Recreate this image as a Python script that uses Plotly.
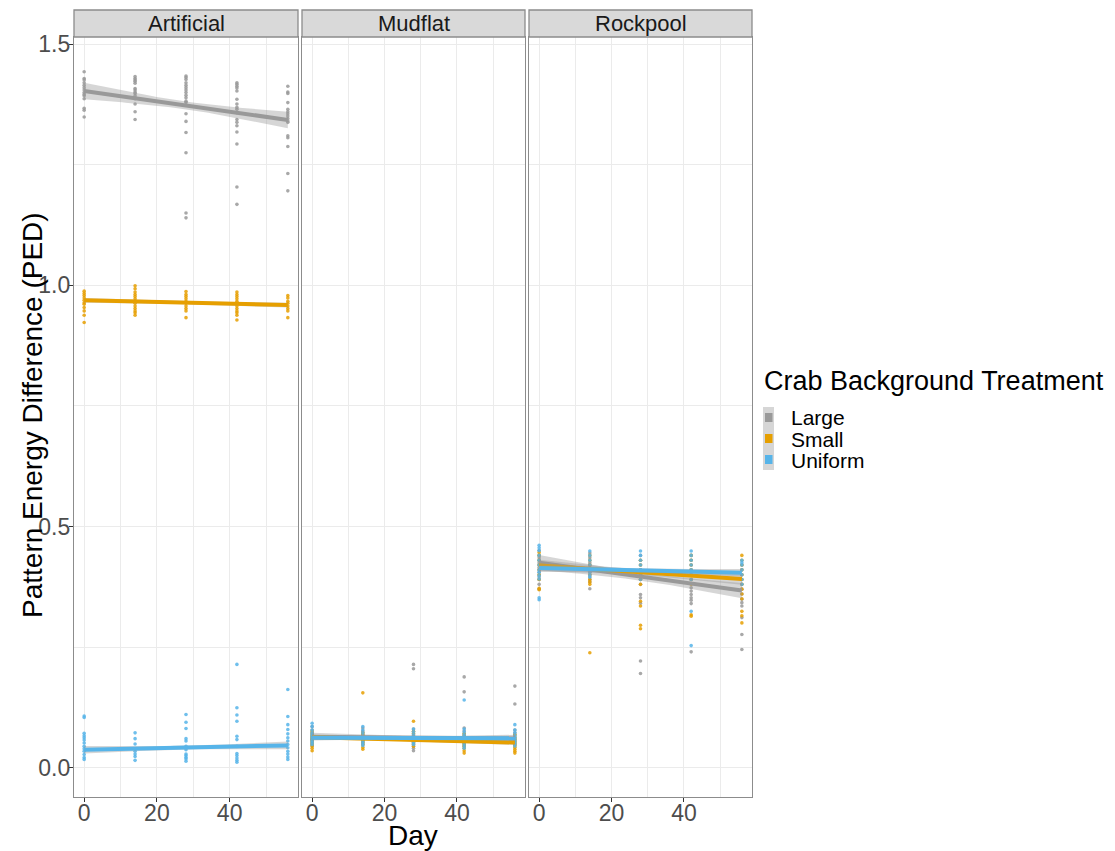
import numpy as np
import plotly.graph_objects as go

# ---------------- data ----------------
days = [0, 14, 28, 42, 56]
panels = ["Artificial", "Mudflat", "Rockpool"]
groups = ["Large", "Small", "Uniform"]
colors = {"Large": "#999999", "Small": "#E69F00", "Uniform": "#56B4E9"}

art_large = [
    [1.443, 1.429, 1.426, 1.420, 1.415, 1.410, 1.405, 1.400, 1.396, 1.393, 1.387, 1.367, 1.363, 1.349],
    [1.433, 1.429, 1.426, 1.423, 1.419, 1.408, 1.405, 1.401, 1.398, 1.393, 1.387, 1.376, 1.360, 1.344],
    [1.434, 1.431, 1.427, 1.420, 1.415, 1.410, 1.405, 1.400, 1.394, 1.389, 1.382, 1.379, 1.356, 1.340, 1.317, 1.275, 1.150, 1.140],
    [1.420, 1.417, 1.413, 1.409, 1.403, 1.386, 1.376, 1.369, 1.365, 1.358, 1.344, 1.338, 1.331, 1.318, 1.293, 1.204, 1.168],
    [1.413, 1.401, 1.398, 1.379, 1.365, 1.360, 1.356, 1.351, 1.346, 1.341, 1.338, 1.310, 1.306, 1.288, 1.232, 1.196],
]
art_small = [
    [0.988, 0.983, 0.979, 0.974, 0.969, 0.964, 0.961, 0.954, 0.947, 0.938, 0.923],
    [0.999, 0.993, 0.986, 0.981, 0.977, 0.972, 0.967, 0.963, 0.957, 0.952, 0.947, 0.943, 0.938],
    [0.987, 0.981, 0.977, 0.972, 0.967, 0.963, 0.957, 0.952, 0.947, 0.933],
    [0.986, 0.981, 0.977, 0.972, 0.967, 0.963, 0.957, 0.952, 0.947, 0.943, 0.938, 0.928],
    [0.979, 0.974, 0.967, 0.963, 0.957, 0.952, 0.947, 0.933],
]
art_uniform = [
    [0.107, 0.104, 0.071, 0.066, 0.062, 0.057, 0.051, 0.044, 0.039, 0.034, 0.027, 0.021, 0.017],
    [0.072, 0.060, 0.049, 0.039, 0.034, 0.028, 0.023, 0.015],
    [0.110, 0.094, 0.081, 0.060, 0.055, 0.044, 0.037, 0.028, 0.025, 0.021, 0.018, 0.013],
    [0.214, 0.124, 0.109, 0.096, 0.065, 0.058, 0.044, 0.029, 0.025, 0.020, 0.015, 0.011],
    [0.162, 0.106, 0.089, 0.079, 0.070, 0.062, 0.055, 0.048, 0.041, 0.034, 0.028, 0.022, 0.017],
]
mud_large = [
    [0.085, 0.078, 0.072, 0.068, 0.065, 0.062, 0.060, 0.058, 0.055, 0.052, 0.048, 0.045],
    [0.082, 0.076, 0.072, 0.068, 0.065, 0.062, 0.058, 0.055, 0.052, 0.048],
    [0.214, 0.205, 0.080, 0.075, 0.070, 0.066, 0.062, 0.058, 0.054, 0.050, 0.045, 0.040, 0.035],
    [0.188, 0.157, 0.082, 0.076, 0.070, 0.066, 0.062, 0.058, 0.054, 0.050, 0.045],
    [0.169, 0.132, 0.078, 0.072, 0.068, 0.064, 0.060, 0.056, 0.052, 0.048],
]
mud_small = [
    [0.075, 0.070, 0.066, 0.062, 0.058, 0.055, 0.050, 0.045, 0.040, 0.035],
    [0.155, 0.072, 0.068, 0.064, 0.060, 0.056, 0.052, 0.048, 0.042, 0.038],
    [0.096, 0.075, 0.070, 0.065, 0.060, 0.056, 0.052, 0.048, 0.044],
    [0.070, 0.065, 0.060, 0.056, 0.052, 0.048, 0.044, 0.040, 0.035, 0.030],
    [0.068, 0.062, 0.058, 0.054, 0.050, 0.046, 0.042, 0.038, 0.034, 0.030],
]
mud_uniform = [
    [0.092, 0.085, 0.078, 0.072, 0.068, 0.064, 0.060, 0.056, 0.052, 0.048],
    [0.085, 0.078, 0.072, 0.066, 0.062, 0.058, 0.054, 0.050, 0.046],
    [0.080, 0.074, 0.068, 0.064, 0.060, 0.056, 0.052, 0.048],
    [0.140, 0.080, 0.074, 0.068, 0.064, 0.060, 0.056, 0.050, 0.045, 0.040],
    [0.089, 0.078, 0.072, 0.066, 0.062, 0.058, 0.054, 0.050, 0.045],
]
rock_large = [
    [0.450, 0.440, 0.435, 0.430, 0.425, 0.420, 0.415, 0.410, 0.405, 0.400, 0.395, 0.390, 0.380, 0.370],
    [0.445, 0.435, 0.425, 0.420, 0.415, 0.410, 0.405, 0.400, 0.395, 0.390, 0.385, 0.371],
    [0.440, 0.430, 0.420, 0.410, 0.400, 0.390, 0.380, 0.359, 0.352, 0.341, 0.221, 0.195],
    [0.440, 0.430, 0.420, 0.410, 0.400, 0.390, 0.373, 0.366, 0.359, 0.352, 0.347, 0.340, 0.240],
    [0.420, 0.410, 0.400, 0.390, 0.380, 0.370, 0.360, 0.349, 0.342, 0.335, 0.311, 0.276, 0.245],
]
rock_small = [
    [0.446, 0.440, 0.430, 0.420, 0.410, 0.400, 0.390, 0.372, 0.369],
    [0.440, 0.430, 0.420, 0.410, 0.400, 0.390, 0.385, 0.380, 0.238],
    [0.430, 0.420, 0.410, 0.400, 0.390, 0.380, 0.345, 0.335, 0.295, 0.288],
    [0.440, 0.430, 0.420, 0.410, 0.400, 0.390, 0.380, 0.317, 0.314],
    [0.440, 0.430, 0.420, 0.410, 0.400, 0.390, 0.380, 0.370, 0.360, 0.350, 0.324, 0.315, 0.300],
]
rock_uniform = [
    [0.461, 0.456, 0.450, 0.440, 0.430, 0.420, 0.410, 0.405, 0.398, 0.391, 0.352, 0.348],
    [0.449, 0.440, 0.430, 0.420, 0.410, 0.405, 0.400, 0.395],
    [0.449, 0.440, 0.430, 0.420, 0.410, 0.405, 0.400, 0.390],
    [0.449, 0.440, 0.430, 0.420, 0.410, 0.400, 0.390, 0.324, 0.253],
    [0.430, 0.425, 0.420, 0.410, 0.400, 0.390, 0.380],
]

# fitted lines: (value at day 0, value at day 56,
# CI half-width at the ends, CI half-width at the centre)
art_fits = {"Large": (1.403, 1.343, 0.017, 0.008), "Small": (0.969, 0.959, 0.005, 0.003),
            "Uniform": (0.037, 0.046, 0.008, 0.004)}
mud_fits = {"Large": (0.064, 0.060, 0.008, 0.004), "Small": (0.063, 0.052, 0.005, 0.003),
            "Uniform": (0.062, 0.061, 0.005, 0.003)}
rock_fits = {"Large": (0.425, 0.367, 0.016, 0.008), "Small": (0.419, 0.391, 0.012, 0.006),
             "Uniform": (0.414, 0.404, 0.008, 0.004)}

points = {
    "Artificial": {"Large": art_large, "Small": art_small, "Uniform": art_uniform},
    "Mudflat": {"Large": mud_large, "Small": mud_small, "Uniform": mud_uniform},
    "Rockpool": {"Large": rock_large, "Small": rock_small, "Uniform": rock_uniform},
}
fits = {"Artificial": art_fits, "Mudflat": mud_fits, "Rockpool": rock_fits}

# ---------------- figure ----------------
W, H = 1115, 851
OFF = 8  # page body margin in the browser
ML, MT = 74 - OFF, 37 - OFF
MR = W - (752 - OFF)
MB = H - (797 - OFF)
pw = W - ML - MR
ph = H - MT - MB
panel_px = [(74, 298), (302, 525), (529, 752)]


def px_x(x):
    return (x - OFF - ML) / pw


def px_y(y):
    return (H - MB - (y - OFF)) / ph


domains = [(px_x(a), px_x(b)) for a, b in panel_px]

fig = go.Figure()
xs_line = np.linspace(0, 56, 60)
for i, p in enumerate(panels):
    xa = "x" if i == 0 else f"x{i+1}"
    ya = "y" if i == 0 else f"y{i+1}"
    for g in groups:
        xx, yy = [], []
        for d, vals in zip(days, points[p][g]):
            xx += [d] * len(vals)
            yy += vals
        fig.add_trace(go.Scatter(x=xx, y=yy, mode="markers", xaxis=xa, yaxis=ya,
                                 marker=dict(size=3.6, color=colors[g], opacity=0.85),
                                 showlegend=False, hoverinfo="skip"))
    for g in groups:
        f0, f56, he, hc = fits[p][g]
        line = f0 + (f56 - f0) * xs_line / 56
        hw = np.sqrt(hc ** 2 + (he ** 2 - hc ** 2) * ((xs_line - 28) / 28) ** 2)
        fig.add_trace(go.Scatter(x=np.concatenate([xs_line, xs_line[::-1]]),
                                 y=np.concatenate([line + hw, (line - hw)[::-1]]),
                                 fill="toself", fillcolor="rgba(153,153,153,0.4)",
                                 line=dict(width=0), mode="lines", xaxis=xa, yaxis=ya,
                                 showlegend=False, hoverinfo="skip"))
        fig.add_trace(go.Scatter(x=xs_line, y=line, mode="lines", xaxis=xa, yaxis=ya,
                                 line=dict(color=colors[g], width=4),
                                 showlegend=False, hoverinfo="skip"))

FONT = "Liberation Sans, Arial"
grid = "#ebebeb"
border = "#8c8c8c"
tickfont = dict(family=FONT, size=23, color="#4d4d4d")
layout = dict(
    width=W, height=H, margin=dict(l=ML, r=MR, t=MT, b=MB, pad=0),
    paper_bgcolor="white", plot_bgcolor="white", showlegend=False,
    font=dict(family=FONT),
)
for i in range(3):
    key = "xaxis" if i == 0 else f"xaxis{i+1}"
    ykey = "yaxis" if i == 0 else f"yaxis{i+1}"
    layout[key] = dict(
        domain=list(domains[i]), range=[-2.8, 58.8], anchor="y" if i == 0 else f"y{i+1}",
        tickmode="array", tickvals=[0, 20, 40], ticktext=["0", "20", "40"],
        ticks="outside", ticklen=4, tickcolor="#333333", tickfont=tickfont,
        ticklabelstandoff=-9,
        showgrid=True, gridcolor=grid, gridwidth=1,
        minor=dict(tickmode="array", tickvals=[10, 30, 50], showgrid=True, gridcolor=grid, gridwidth=0.6, ticks=""),
        showline=True, linecolor=border, linewidth=1.3, mirror=True, zeroline=False,
    )
    layout[ykey] = dict(
        domain=[0, 1], range=[-0.061, 1.515], anchor="x" if i == 0 else f"x{i+1}",
        tickmode="array", tickvals=[0, 0.5, 1.0, 1.5], ticktext=["0.0", "0.5", "1.0", "1.5"],
        ticks="outside" if i == 0 else "", ticklen=4, tickcolor="#333333", tickfont=tickfont,
        ticklabelstandoff=-6,
        showticklabels=(i == 0),
        showgrid=True, gridcolor=grid, gridwidth=1,
        minor=dict(tickmode="array", tickvals=[0.25, 0.75, 1.25], showgrid=True, gridcolor=grid, gridwidth=0.6, ticks=""),
        showline=True, linecolor=border, linewidth=1.3, mirror=True, zeroline=False,
    )
    if i > 0:
        layout[ykey]["matches"] = "y"

fig.update_layout(**layout)

shapes = []
annotations = []
strip_top = px_y(10)
for i, p in enumerate(panels):
    x0, x1 = domains[i]
    shapes.append(dict(type="rect", xref="paper", yref="paper", x0=x0, x1=x1, y0=1.0, y1=strip_top,
                       fillcolor="#d9d9d9", line=dict(color=border, width=1.3), layer="above"))
    annotations.append(dict(text=p, xref="paper", yref="paper", x=(x0 + x1) / 2, y=(1 + strip_top) / 2,
                            xanchor="center", yanchor="middle", showarrow=False,
                            font=dict(family=FONT, size=22, color="#1a1a1a")))

# axis titles
annotations.append(dict(text="Day", xref="paper", yref="paper", x=px_x(413), y=px_y(835),
                        xanchor="center", yanchor="middle", showarrow=False,
                        font=dict(family=FONT, size=28, color="black")))
annotations.append(dict(text="Pattern Energy Difference (PED)", xref="paper", yref="paper",
                        x=px_x(32), y=px_y(415), textangle=-90,
                        xanchor="center", yanchor="middle", showarrow=False,
                        font=dict(family=FONT, size=28, color="black")))

# legend
annotations.append(dict(text="Crab Background Treatment", xref="paper", yref="paper",
                        x=px_x(762), y=px_y(381), xanchor="left", yanchor="middle", showarrow=False,
                        font=dict(family=FONT, size=27, color="black")))
key_tops = [407, 428, 449]
for g, kt in zip(groups, key_tops):
    shapes.append(dict(type="rect", xref="paper", yref="paper", x0=px_x(763), x1=px_x(774),
                       y0=px_y(kt + 21), y1=px_y(kt), fillcolor="#d6d6d6", line=dict(width=0)))
    shapes.append(dict(type="rect", xref="paper", yref="paper", x0=px_x(765), x1=px_x(772.5),
                       y0=px_y(kt + 15), y1=px_y(kt + 6), fillcolor=colors[g], line=dict(width=0)))
    annotations.append(dict(text=g, xref="paper", yref="paper", x=px_x(789), y=px_y(kt + 11),
                            xanchor="left", yanchor="middle", showarrow=False,
                            font=dict(family=FONT, size=21, color="black")))

fig.update_layout(shapes=shapes, annotations=annotations)
fig.write_html("out.html")
